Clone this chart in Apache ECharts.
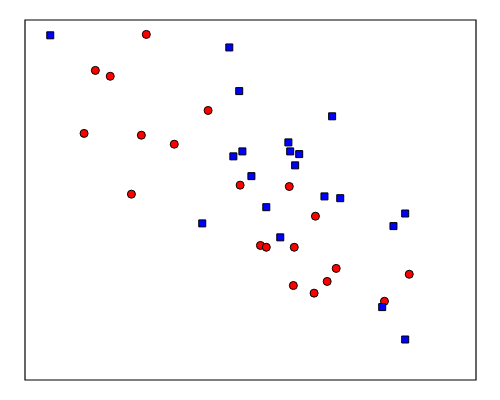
<!DOCTYPE html>
<html>
<head>
<meta charset="utf-8">
<script src="https://cdn.jsdelivr.net/npm/echarts@6/dist/echarts.min.js"></script>
<style>html,body{margin:0;padding:0;background:#fff;}#c{width:500px;height:400px;}</style>
</head>
<body>
<div id="c"></div>
<script>
var redX = [2.69, 1.56, 1.89, 4.06, 1.31, 2.58, 3.31, 2.36, 4.77, 5.86, 6.44, 5.22, 5.35, 5.97, 6.90, 6.70, 5.95, 6.41, 7.97, 8.52];
var redY = [7.68, 6.88, 6.75, 5.99, 5.48, 5.44, 5.24, 4.13, 4.33, 4.30, 3.64, 2.99, 2.95, 2.95, 2.48, 2.19, 2.10, 1.93, 1.75, 2.35];
var blueX = [0.56, 4.53, 4.75, 6.81, 5.84, 5.88, 6.08, 5.99, 4.82, 4.62, 5.02, 6.64, 6.99, 5.35, 3.93, 5.66, 8.43, 8.17, 7.92, 8.43];
var blueY = [7.66, 7.39, 6.42, 5.86, 5.28, 5.08, 5.02, 4.77, 5.08, 4.97, 4.53, 4.08, 4.04, 3.84, 3.48, 3.17, 3.70, 3.42, 1.62, 0.90];

function zip(xs, ys){ return xs.map(function(x,i){ return [x, ys[i]]; }); }

var chart = echarts.init(document.getElementById('c'), null, {renderer:'canvas'});
chart.setOption({
  animation: false,
  backgroundColor: '#ffffff',
  grid: {left: 25, top: 20, right: 24, bottom: 20, show: true, borderColor: '#000', borderWidth: 1.2, backgroundColor: 'transparent'},
  xAxis: {type: 'value', min: 0, max: 10, show: false, splitLine: {show: false}},
  yAxis: {type: 'value', min: 0, max: 8, show: false, splitLine: {show: false}},
  series: [
    {type: 'scatter', data: zip(redX, redY), symbol: 'circle', symbolSize: 8,
     itemStyle: {color: '#ff0000', borderColor: '#000', borderWidth: 1, opacity: 1}},
    {type: 'scatter', data: zip(blueX, blueY), symbol: 'rect', symbolSize: 7,
     itemStyle: {color: '#0000ff', borderColor: '#000', borderWidth: 1, opacity: 1}}
  ]
});
</script>
</body>
</html>
